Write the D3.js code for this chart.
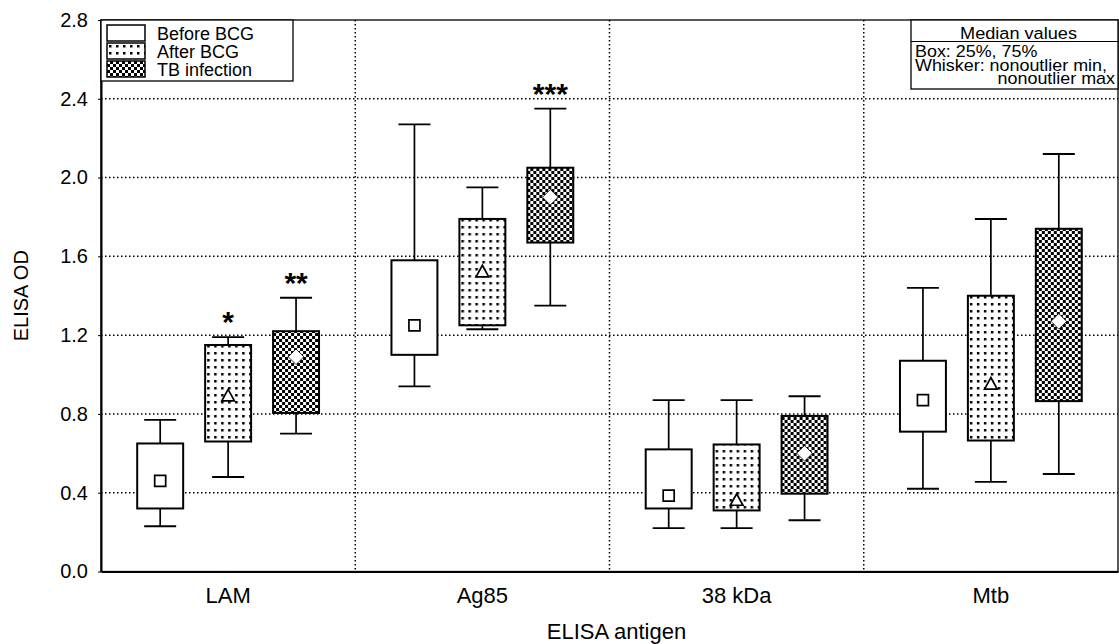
<!DOCTYPE html>
<html>
<head>
<meta charset="utf-8">
<script src="https://cdn.jsdelivr.net/npm/d3@7"></script>
<style>
  html, body { margin: 0; padding: 0; background: #fff; }
  svg { display: block; }
  text { font-family: "Liberation Sans", Arial, sans-serif; fill: #000; }
</style>
</head>
<body>
<div id="chart"></div>
<script>
// ELISA antigens on the x axis
const antigens = ['LAM', 'Ag85', '38 kDa', 'Mtb'];
const groups = ['Before BCG', 'After BCG', 'TB infection'];

// [nonoutlier min, 25%, median, 75%, nonoutlier max] per antigen
const beforeBCG = [
  [0.23, 0.32, 0.46, 0.65, 0.77],
  [0.94, 1.10, 1.25, 1.58, 2.27],
  [0.22, 0.32, 0.385, 0.62, 0.87],
  [0.42, 0.71, 0.87, 1.07, 1.44]
];
const afterBCG = [
  [0.48, 0.66, 0.89, 1.15, 1.19],
  [1.23, 1.25, 1.52, 1.79, 1.95],
  [0.22, 0.31, 0.36, 0.645, 0.87],
  [0.455, 0.665, 0.95, 1.40, 1.79]
];
const tbInfection = [
  [0.70, 0.805, 1.09, 1.22, 1.39],
  [1.35, 1.67, 1.90, 2.05, 2.35],
  [0.26, 0.395, 0.60, 0.79, 0.89],
  [0.495, 0.865, 1.27, 1.74, 2.12]
];

// significance marks above whiskers
const stars = [
  { antigen: 'LAM', group: 'After BCG', label: '*' },
  { antigen: 'LAM', group: 'TB infection', label: '**' },
  { antigen: 'Ag85', group: 'TB infection', label: '***' }
];

const yTicks = [0, 0.4, 0.8, 1.2, 1.6, 2.0, 2.4, 2.8];
const noteLines = ['Box: 25%, 75%', 'Whisker: nonoutlier min,', 'nonoutlier max'];

const W = 1119;
const H = 644;
const margin = { t: 20, r: 1, b: 72.5, l: 101 };

const series = [beforeBCG, afterBCG, tbInfection];
const fills = ['#fff', 'url(#dots)', 'url(#checks)'];
const markers = ['square', 'triangle', 'diamond'];

const scaleX = d3.scaleBand()
  .domain(antigens)
  .range([margin.l, W - margin.r]);

const inner = d3.scaleBand()
  .domain(groups)
  .range([0, scaleX.bandwidth()])
  .paddingInner(0.3235)
  .paddingOuter(0.533);

const scaleY = d3.scaleLinear()
  .domain([0, 2.8])
  .range([H - margin.b, margin.t]);

const svg = d3.select('#chart')
  .append('svg')
  .attr('width', W)
  .attr('height', H);

// Patterns
const defs = svg.append('defs');
const dots = defs.append('pattern')
  .attr('id', 'dots')
  .attr('patternUnits', 'userSpaceOnUse')
  .attr('width', 7)
  .attr('height', 7);
dots.append('rect').attr('width', 7).attr('height', 7).attr('fill', '#fff');
dots.append('rect')
  .attr('x', 2).attr('y', 2)
  .attr('width', 2.5).attr('height', 2.5)
  .attr('fill', '#000');

const checks = defs.append('pattern')
  .attr('id', 'checks')
  .attr('patternUnits', 'userSpaceOnUse')
  .attr('width', 6)
  .attr('height', 6);
checks.append('rect').attr('width', 6).attr('height', 6).attr('fill', '#000');
checks.append('rect').attr('width', 3).attr('height', 3).attr('fill', '#fff');
checks.append('rect').attr('x', 3).attr('y', 3).attr('width', 3).attr('height', 3).attr('fill', '#fff');

const plotL = margin.l;
const plotR = W - margin.r;
const plotT = margin.t;
const plotB = H - margin.b;

// Grid
const grid = svg.append('g').attr('class', 'grid');
grid.selectAll('line.h')
  .data(yTicks.filter(d => d > 0 && d < 2.8))
  .enter()
  .append('line')
  .attr('class', 'h')
  .attr('x1', plotL)
  .attr('x2', plotR)
  .attr('y1', d => scaleY(d))
  .attr('y2', d => scaleY(d));

grid.selectAll('line.v')
  .data(antigens.slice(1))
  .enter()
  .append('line')
  .attr('class', 'v')
  .attr('x1', d => scaleX(d))
  .attr('x2', d => scaleX(d))
  .attr('y1', plotT)
  .attr('y2', plotB);

grid.selectAll('line')
  .attr('stroke', '#000')
  .attr('stroke-width', 1.5)
  .attr('stroke-dasharray', '1.5,2.5');

// Boxes
const boxData = [];
series.forEach((s, gi) => {
  s.forEach((v, ai) => {
    boxData.push({ antigen: antigens[ai], group: groups[gi], gi, v });
  });
});

const boxes = svg.append('g')
  .attr('class', 'boxes')
  .selectAll('g')
  .data(boxData)
  .enter()
  .append('g')
  .attr('transform', d => `translate(${scaleX(d.antigen) + inner(d.group)}, 0)`);

const bw = inner.bandwidth();
const capW = 32;

boxes.append('line')
  .attr('x1', bw / 2)
  .attr('x2', bw / 2)
  .attr('y1', d => scaleY(d.v[0]))
  .attr('y2', d => scaleY(d.v[4]))
  .attr('stroke', '#000')
  .attr('stroke-width', 1.7);

boxes.selectAll('line.cap')
  .data(d => [d.v[0], d.v[4]])
  .enter()
  .append('line')
  .attr('class', 'cap')
  .attr('x1', bw / 2 - capW / 2)
  .attr('x2', bw / 2 + capW / 2)
  .attr('y1', d => scaleY(d))
  .attr('y2', d => scaleY(d))
  .attr('stroke', '#000')
  .attr('stroke-width', 1.9);

boxes.append('rect')
  .attr('x', 0)
  .attr('width', bw)
  .attr('y', d => scaleY(d.v[3]))
  .attr('height', d => scaleY(d.v[1]) - scaleY(d.v[3]))
  .attr('fill', d => fills[d.gi])
  .attr('stroke', '#000')
  .attr('stroke-width', 2);

// Median markers
function markerPath(type, s) {
  if (type === 'square') return `M${-s},${-s}H${s}V${s}H${-s}Z`;
  if (type === 'triangle') return `M0,${-s * 1.25}L${s * 1.15},${s * 0.85}H${-s * 1.15}Z`;
  return `M0,${-s * 1.3}L${s * 1.3},0L0,${s * 1.3}L${-s * 1.3},0Z`;
}

boxes.append('path')
  .attr('transform', d => `translate(${bw / 2}, ${scaleY(d.v[2])})`)
  .attr('d', d => markerPath(markers[d.gi], d.gi === 2 ? 6 : 5.5))
  .attr('fill', '#fff')
  .attr('stroke', '#000')
  .attr('stroke-width', d => (d.gi === 2 ? 0.8 : 1.7));

// Stars
svg.append('g')
  .selectAll('text')
  .data(stars)
  .enter()
  .append('text')
  .attr('x', d => scaleX(d.antigen) + inner(d.group) + bw / 2)
  .attr('y', d => {
    const s = series[groups.indexOf(d.group)][antigens.indexOf(d.antigen)];
    return scaleY(s[4]) - 5;
  })
  .attr('text-anchor', 'middle')
  .style('font-size', '30px')
  .style('font-weight', 'bold')
  .text(d => d.label);

// Frame
svg.append('rect')
  .attr('x', plotL)
  .attr('y', plotT)
  .attr('width', plotR - plotL)
  .attr('height', plotB - plotT)
  .attr('fill', 'none')
  .attr('stroke', '#000')
  .attr('stroke-width', 1.3);

// Axes
const yAxis = d3.axisLeft(scaleY)
  .tickValues(yTicks)
  .tickFormat(d3.format('.1f'))
  .tickSizeInner(3)
  .tickSizeOuter(0);

const gy = svg.append('g')
  .attr('transform', `translate(${plotL}, 0)`)
  .call(yAxis);
gy.select('.domain')
  .attr('stroke-width', 2);
gy.selectAll('text')
  .attr('x', -13)
  .style('font-size', '20px')
  .style('font-family', '"Liberation Sans", Arial, sans-serif');

const xAxis = d3.axisBottom(scaleX).tickSize(0);
const gx = svg.append('g')
  .attr('transform', `translate(0, ${plotB})`)
  .call(xAxis);
gx.select('.domain')
  .attr('stroke-width', 2);
gx.selectAll('text')
  .attr('dy', 0)
  .attr('y', 31.5)
  .style('font-size', '22px')
  .style('font-family', '"Liberation Sans", Arial, sans-serif');

// Axis titles
svg.append('text')
  .attr('transform', `translate(28, ${(plotT + plotB) / 2}) rotate(-90)`)
  .attr('text-anchor', 'middle')
  .style('font-size', '20px')
  .text('ELISA OD');

svg.append('text')
  .attr('x', (plotL + plotR) / 2 + 7)
  .attr('y', 639)
  .attr('text-anchor', 'middle')
  .style('font-size', '22px')
  .text('ELISA antigen');

// Legend
const legend = svg.append('g').attr('class', 'legend');
legend.append('rect')
  .attr('x', plotL)
  .attr('y', plotT)
  .attr('width', 192)
  .attr('height', 61)
  .attr('fill', '#fff')
  .attr('stroke', '#000')
  .attr('stroke-width', 1.3);

const li = legend.selectAll('g')
  .data(groups)
  .enter()
  .append('g')
  .attr('transform', (d, i) => `translate(${plotL + 6}, ${plotT + 5 + i * 18})`);

li.append('rect')
  .attr('width', 38)
  .attr('height', 16)
  .attr('fill', (d, i) => fills[i])
  .attr('stroke', '#000')
  .attr('stroke-width', 1.5);

li.append('text')
  .attr('x', 50)
  .attr('y', 15)
  .style('font-size', '18px')
  .text(d => d);

// Note box
const note = svg.append('g').attr('class', 'note');
const noteL = 911;
note.append('rect')
  .attr('x', noteL)
  .attr('y', plotT)
  .attr('width', plotR - noteL)
  .attr('height', 69)
  .attr('fill', '#fff')
  .attr('stroke', '#000')
  .attr('stroke-width', 1.3);

note.append('line')
  .attr('x1', noteL)
  .attr('x2', plotR)
  .attr('y1', 41.5)
  .attr('y2', 41.5)
  .attr('stroke', '#000')
  .attr('stroke-width', 1);

note.append('text')
  .attr('transform', `translate(${(noteL + plotR) / 2 + 4}, 39) scale(1.1, 1)`)
  .attr('text-anchor', 'middle')
  .style('font-size', '16.5px')
  .text('Median values');

note.selectAll('text.line')
  .data(noteLines)
  .enter()
  .append('text')
  .attr('class', 'line')
  .attr('transform', (d, i) => `translate(${i === 2 ? plotR - 3 : noteL + 4}, ${57 + i * 13.5}) scale(1.12, 1)`)
  .attr('text-anchor', (d, i) => (i === 2 ? 'end' : 'start'))
  .style('font-size', '16px')
  .text(d => d);
</script>
</body>
</html>
